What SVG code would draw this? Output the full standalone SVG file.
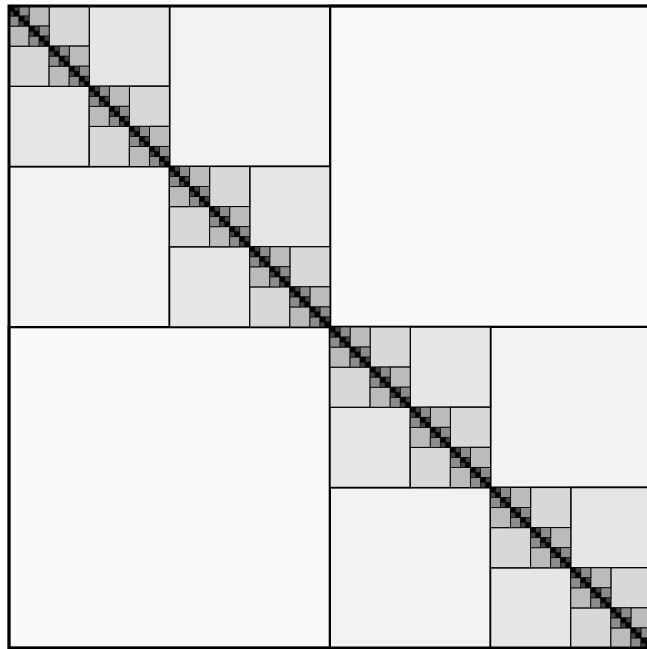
<svg xmlns="http://www.w3.org/2000/svg" xmlns:xlink="http://www.w3.org/1999/xlink" width="647" height="649" viewBox="0 0 647 649" overflow="hidden">
  <style>
    rect { stroke: #000; }
    .c1 { fill: #fafafa; stroke-width: 2.6; }
    .c2 { fill: #f2f2f2; stroke-width: 2; }
    .c3 { fill: #e6e6e6; stroke-width: 1.5; }
    .c4 { fill: #d8d8d8; stroke-width: 1.2; }
    .c5 { fill: #bbbbbb; stroke-width: 1; }
    .c6 { fill: #8c8c8c; stroke-width: 0.8; }
    .c7 { fill: #404040; stroke-width: 0.5; }
    .dk { fill: #000; stroke-width: 0.5; }
  </style>
  <defs>
    <clipPath id="view">
      <rect x="0" y="0" width="647" height="649" style="stroke:none"/>
    </clipPath>
    <g id="d6">
      <rect class="c7" x="5.015625" y="0" width="5.015625" height="5.015625"/>
      <rect class="c7" x="0" y="5.015625" width="5.015625" height="5.015625"/>
      <rect class="dk" x="0" y="0" width="5.015625" height="5.015625"/>
      <rect class="dk" x="5.015625" y="5.015625" width="5.015625" height="5.015625"/>
    </g>
    <g id="d5">
      <rect class="c6" x="10.03125" y="0" width="10.03125" height="10.03125"/>
      <rect class="c6" x="0" y="10.03125" width="10.03125" height="10.03125"/>
      <use xlink:href="#d6" href="#d6"/>
      <use xlink:href="#d6" href="#d6" transform="translate(10.03125 10.03125)"/>
    </g>
    <g id="d4">
      <rect class="c5" x="20.0625" y="0" width="20.0625" height="20.0625"/>
      <rect class="c5" x="0" y="20.0625" width="20.0625" height="20.0625"/>
      <use xlink:href="#d5" href="#d5"/>
      <use xlink:href="#d5" href="#d5" transform="translate(20.0625 20.0625)"/>
    </g>
    <g id="d3">
      <rect class="c4" x="40.125" y="0" width="40.125" height="40.125"/>
      <rect class="c4" x="0" y="40.125" width="40.125" height="40.125"/>
      <use xlink:href="#d4" href="#d4"/>
      <use xlink:href="#d4" href="#d4" transform="translate(40.125 40.125)"/>
    </g>
    <g id="d2">
      <rect class="c3" x="80.25" y="0" width="80.25" height="80.25"/>
      <rect class="c3" x="0" y="80.25" width="80.25" height="80.25"/>
      <use xlink:href="#d3" href="#d3"/>
      <use xlink:href="#d3" href="#d3" transform="translate(80.25 80.25)"/>
    </g>
    <g id="d1">
      <rect class="c2" x="160.5" y="0" width="160.5" height="160.5"/>
      <rect class="c2" x="0" y="160.5" width="160.5" height="160.5"/>
      <use xlink:href="#d2" href="#d2"/>
      <use xlink:href="#d2" href="#d2" transform="translate(160.5 160.5)"/>
    </g>
  </defs>
  <rect x="0" y="0" width="647" height="649" fill="#ffffff" style="stroke:none"/>
  <g clip-path="url(#view)">
    <g id="matrix" transform="translate(9 6)">
      <rect class="c1" x="321" y="0" width="321" height="321"/>
      <rect class="c1" x="0" y="321" width="321" height="321"/>
      <use xlink:href="#d1" href="#d1"/>
      <use xlink:href="#d1" href="#d1" transform="translate(321 321)"/>
      <rect x="0" y="0" width="642" height="642" fill="none" stroke-width="3"/>
    </g>
  </g>
</svg>
